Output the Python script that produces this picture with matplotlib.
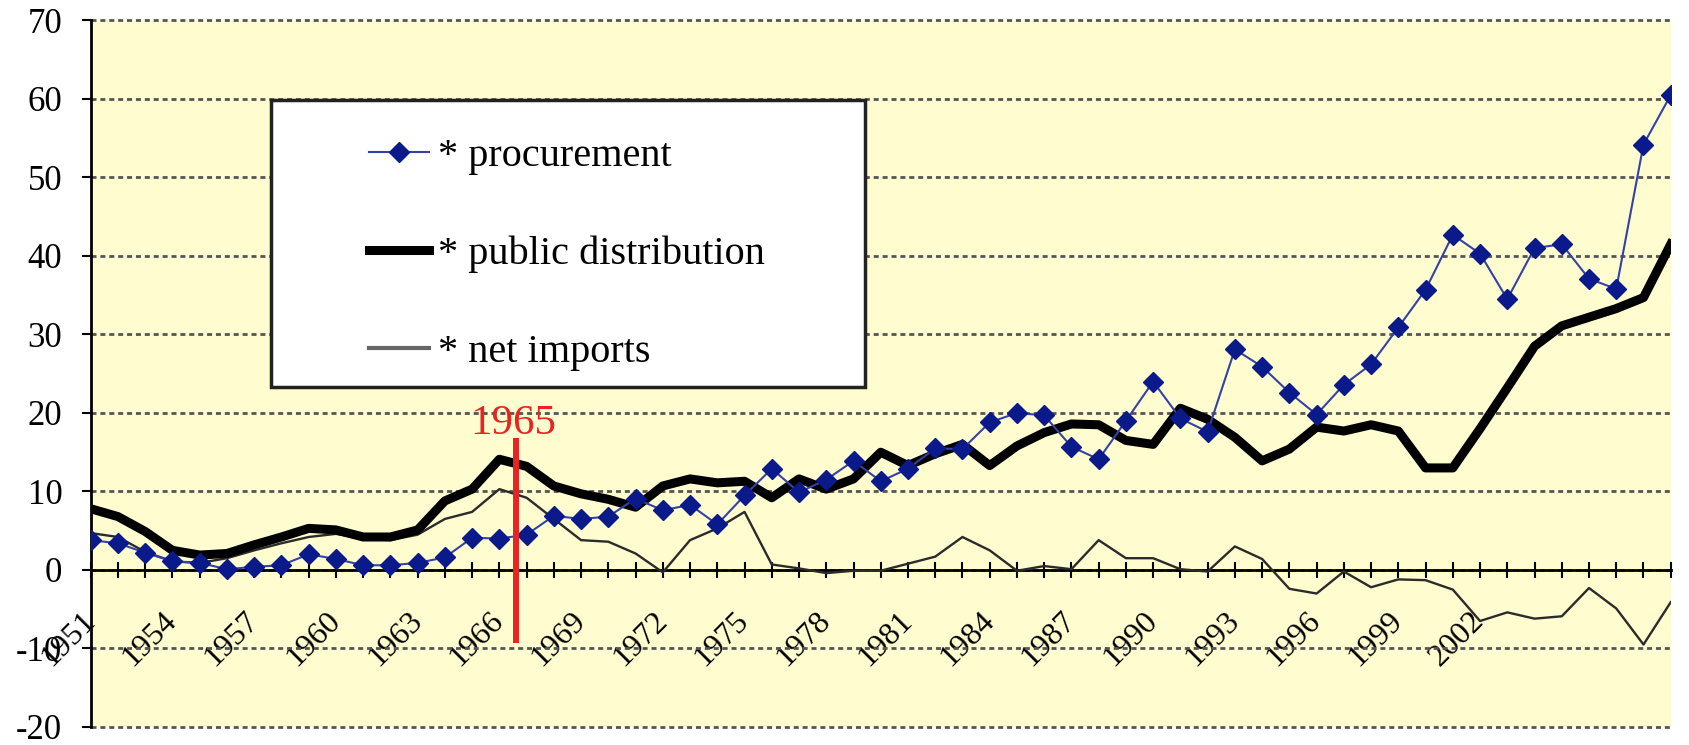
import matplotlib
matplotlib.use("Agg")
import matplotlib.pyplot as plt
from matplotlib.patches import Rectangle

plt.rcParams['font.family'] = ['Liberation Serif', 'DejaVu Serif']
plt.rcParams['axes.unicode_minus'] = False

# years on the category axis
years = list(range(1951, 2010))

procurement = [3.8, 3.4, 2.2, 1.1, 0.9, 0.1, 0.4, 0.6, 2.0, 1.4,
               0.6, 0.6, 0.9, 1.6, 4.1, 4.0, 4.5, 6.9, 6.5, 6.8,
               9.1, 7.6, 8.3, 5.8, 9.5, 12.9, 9.9, 11.5, 13.9, 11.3,
               12.9, 15.5, 15.4, 18.8, 20.0, 19.7, 15.7, 14.1, 19.0, 24.0,
               19.3, 17.6, 28.1, 25.9, 22.6, 19.8, 23.6, 26.2, 30.9, 35.7,
               42.7, 40.3, 34.5, 41.0, 41.5, 37.1, 35.8, 54.2, 60.5]

public_distribution = [7.8, 6.8, 4.9, 2.5, 1.9, 2.1, 3.2, 4.2, 5.3, 5.1,
                       4.2, 4.2, 5.1, 8.8, 10.3, 14.1, 13.2, 10.7, 9.7, 9.0,
                       8.0, 10.7, 11.6, 11.1, 11.3, 9.2, 11.6, 10.3, 11.6, 15.0,
                       13.3, 14.8, 16.0, 13.3, 15.8, 17.5, 18.6, 18.5, 16.5, 16.0,
                       20.6, 19.2, 16.9, 13.9, 15.4, 18.2, 17.7, 18.5, 17.7, 13.0,
                       13.0, 18.0, 23.2, 28.5, 31.1, 32.2, 33.3, 34.7, 41.5]

net_imports = [4.7, 4.2, 2.3, 1.1, 0.9, 1.5, 2.5, 3.4, 4.2, 4.6,
               4.0, 3.8, 4.5, 6.5, 7.4, 10.3, 9.2, 6.5, 3.8, 3.6,
               2.1, -0.3, 3.8, 5.3, 7.4, 0.7, 0.2, -0.4, -0.1, -0.1,
               0.8, 1.7, 4.2, 2.5, -0.1, 0.5, 0.1, 3.8, 1.5, 1.5,
               0.1, -0.2, 3.0, 1.4, -2.4, -3.0, -0.2, -2.2, -1.2, -1.3,
               -2.5, -6.5, -5.4, -6.2, -5.9, -2.3, -4.9, -9.5, -4.1]

labels = ["* procurement", "* public distribution", "* net imports"]
year_labels = [str(y) if (y - 1951) % 3 == 0 and y <= 2002 else "" for y in years]

# red marker line and its text
mark_x = 1966.6
mark_text = "1965"

fig = plt.figure(figsize=(16.9, 7.45), dpi=100)
ax = fig.add_axes([0.0537, 0.0242, 0.9349, 0.9483])
ax.set_facecolor('#FFFCD0')

l3, = ax.plot(years, net_imports, color='#2b2b2b', linewidth=1.7, zorder=3)
l2, = ax.plot(years, public_distribution, color='black', linewidth=6.5,
              solid_joinstyle='round', zorder=4)
l1, = ax.plot(years, procurement, color='#3442A6', linewidth=1.5, marker='D',
              markersize=10, markerfacecolor='#0B1A8A', markeredgecolor='#0B1A8A', zorder=5)

ax.vlines(mark_x, -9.3, 16.8, color='#EA2222', linewidth=4.3, zorder=6)
ax.text(mark_x - 0.1, 17.3, mark_text, color='#EA2222', fontsize=31,
        ha='center', va='baseline', zorder=6)

ax.set_xlim(1951, 2009)
ax.set_ylim(-20, 70)
ax.set_yticks(range(-20, 71, 10))
ax.grid(axis='y', color='#555555', linestyle=(0, (1.8, 1.4)), linewidth=2, zorder=1)
ax.set_axisbelow(True)
for gl in ax.get_ygridlines():
    gl.set_clip_on(False)

ax.spines['top'].set_visible(False)
ax.spines['right'].set_visible(False)
ax.spines['left'].set_linewidth(2)
ax.spines['bottom'].set_position(('data', 0))
ax.spines['bottom'].set_linewidth(2)
ax.spines['bottom'].set_zorder(2)

ax.set_xticks(years)
ax.set_xticklabels(year_labels)
ax.tick_params(axis='x', direction='inout', length=11, width=1.5, pad=28, labelsize=23)
plt.setp(ax.get_xticklabels(), rotation=45, ha='right', va='center', rotation_mode='anchor')
ax.tick_params(axis='y', direction='out', length=6.5, width=1.5, pad=14, labelsize=25)

# legend box
ax.add_patch(Rectangle((0.1141, 0.4812), 0.3759, 0.4062, transform=ax.transAxes,
                       facecolor='white', edgecolor='#222222', linewidth=2.5, zorder=10))
leg = ax.legend([l1, l2, l3], labels, loc='upper left', frameon=False,
                bbox_to_anchor=(369 / 1690, 1 - 138 / 745), bbox_transform=fig.transFigure,
                borderpad=0, borderaxespad=0, handlelength=1.5, handletextpad=0.22,
                labelspacing=1.5, fontsize=29, numpoints=1)
leg.set_zorder(11)
leg.get_lines()[2].set_color('#666666')
leg.get_lines()[2].set_linewidth(3)

plt.savefig("out.png", dpi=100)
